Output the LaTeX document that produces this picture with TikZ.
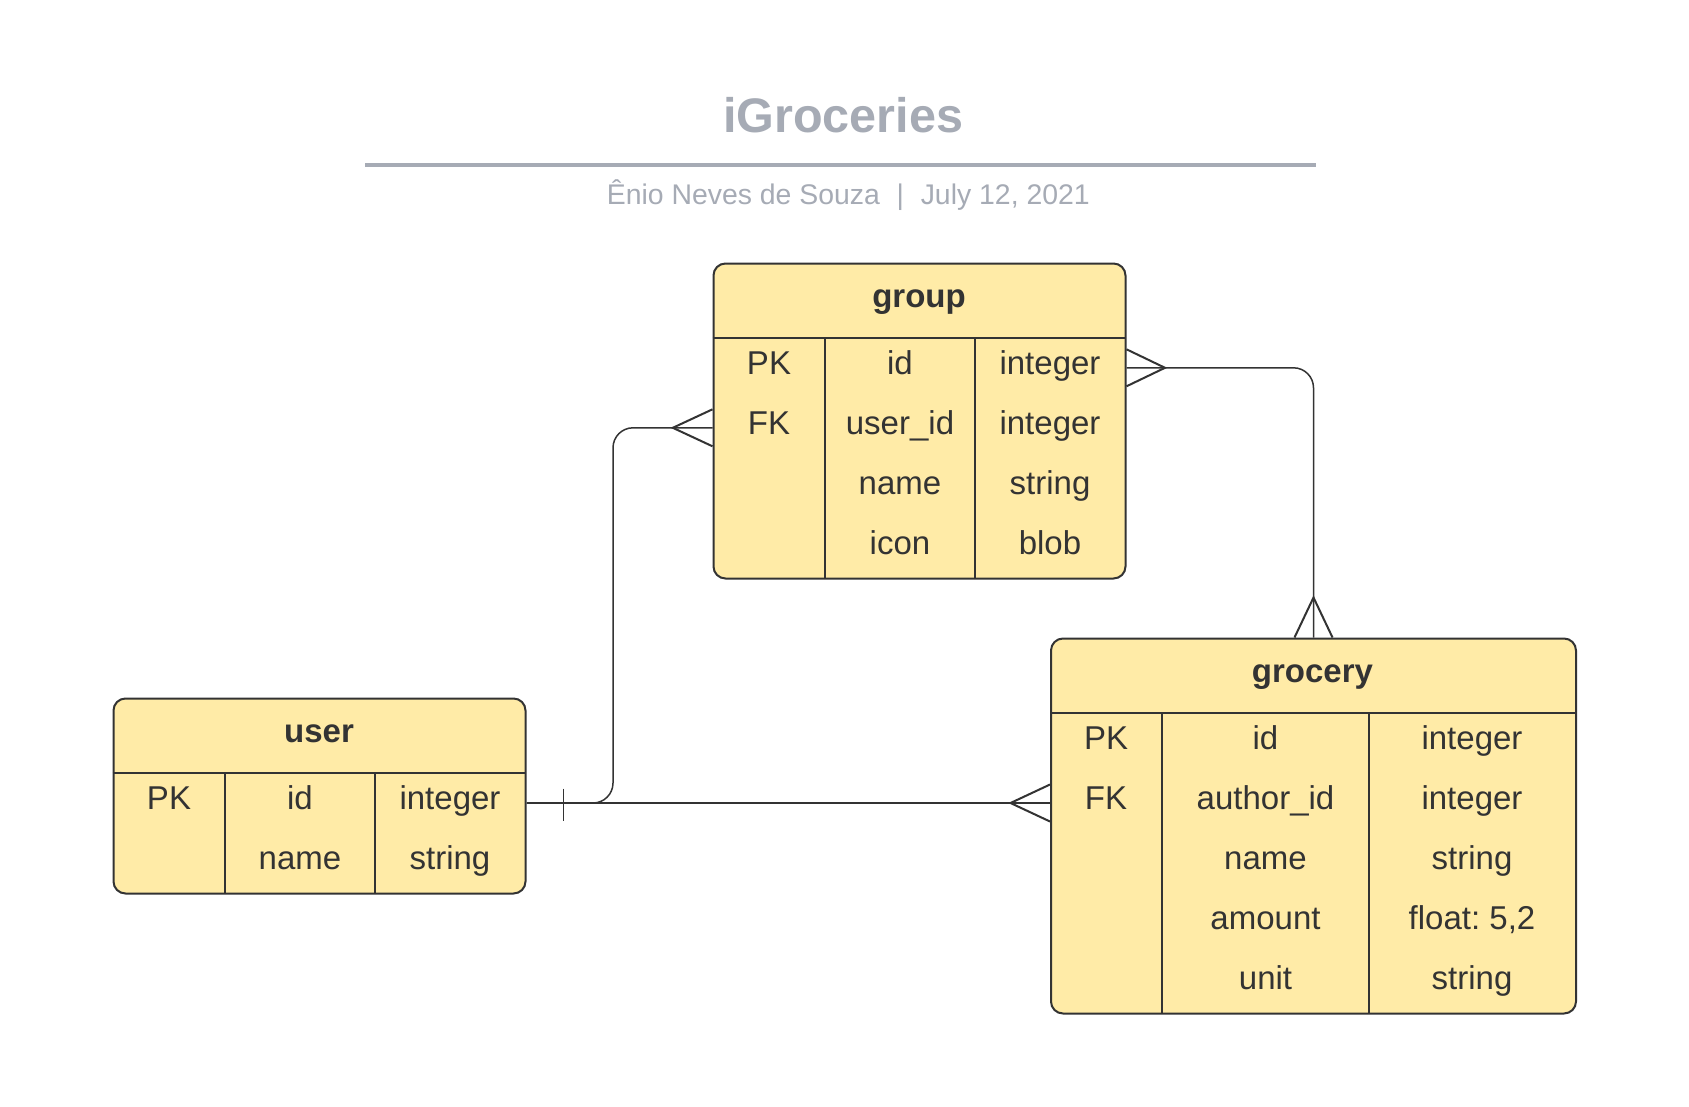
\documentclass[tikz,border=0pt]{standalone}
\usepackage{fontspec}
\setmainfont{Liberation Sans}
\usetikzlibrary{calc}
\definecolor{ink}{HTML}{333333}
\definecolor{fillY}{RGB}{255,235,167}
\definecolor{titlegray}{RGB}{166,171,181}
\tikzset{
  tbl/.style={draw=ink, line width=2pt, fill=fillY, rounded corners=12pt, inner sep=0pt, anchor=north west},
  divider/.style={draw=ink, line width=1.5pt},
  cell/.style={font=\fontsize{33}{40}\selectfont\frenchspacing, text=ink, anchor=base, inner sep=0pt},
  ttl/.style={font=\fontsize{33}{40}\selectfont\bfseries, text=ink, anchor=base, inner sep=0pt},
  conn/.style={draw=ink, line width=1.5pt},
  prong/.style={draw=ink, line width=2pt, line join=miter},
}
\begin{document}
\begin{tikzpicture}[x=1pt, y=-1pt]
\useasboundingbox[fill=white] (0,0) rectangle (1689,1106);

% ---- title block
\node[font=\fontsize{48.5}{58}\selectfont\bfseries, text=titlegray, anchor=base, inner sep=0pt] (title) at (843,132.5) {iGroceries};
\draw[titlegray, line width=4pt] (365,164.8) -- (1316,164.8);
\node[font=\fontsize{28.4}{34}\selectfont, text=titlegray, anchor=base, inner sep=0pt] (subtitle) at (848.3,204) {Ênio Neves de Souza\hspace{0.59em}|\hspace{0.59em}July 12, 2021};

% ---- group table
\node[tbl, minimum width=412pt, minimum height=315pt] (group) at (712.5,262.5) {};
\draw[divider] (712.5,337.8) -- (1124.5,337.8);
\draw[divider] (825,337.8) -- (825,577.5);
\draw[divider] (975,337.8) -- (975,577.5);
\node[ttl] (group-title) at (919,307) {group};
\node[cell] (g-pk) at (769,374.3) {PK};
\node[cell] (g-fk) at (769,434.3) {FK};
\node[cell] (g-c1) at (900,374.3) {id};
\node[cell] (g-c2) at (900,434.3) {user\_id};
\node[cell] (g-c3) at (900,494.3) {name};
\node[cell] (g-c4) at (900,554.3) {icon};
\node[cell] (g-t1) at (1050,374.3) {integer};
\node[cell] (g-t2) at (1050,434.3) {integer};
\node[cell] (g-t3) at (1050,494.3) {string};
\node[cell] (g-t4) at (1050,554.3) {blob};

% ---- user table
\node[tbl, minimum width=412pt, minimum height=195pt] (user) at (112.5,697.5) {};
\draw[divider] (112.5,773) -- (524.5,773);
\draw[divider] (225,773) -- (225,892.5);
\draw[divider] (375,773) -- (375,892.5);
\node[ttl] (user-title) at (319,742) {user};
\node[cell] (u-pk) at (169,809.5) {PK};
\node[cell] (u-c1) at (300,809.5) {id};
\node[cell] (u-c2) at (300,869.5) {name};
\node[cell] (u-t1) at (450,809.5) {integer};
\node[cell] (u-t2) at (450,869.5) {string};

% ---- grocery table
\node[tbl, minimum width=525pt, minimum height=375pt] (grocery) at (1050,637.5) {};
\draw[divider] (1050,713) -- (1575,713);
\draw[divider] (1162,713) -- (1162,1012.5);
\draw[divider] (1369,713) -- (1369,1012.5);
\node[ttl] (grocery-title) at (1312.5,682) {grocery};
\node[cell] (r-pk) at (1106,749.5) {PK};
\node[cell] (r-fk) at (1106,809.5) {FK};
\node[cell] (r-c1) at (1265.5,749.5) {id};
\node[cell] (r-c2) at (1265.5,809.5) {author\_id};
\node[cell] (r-c3) at (1265.5,869.5) {name};
\node[cell] (r-c4) at (1265.5,929.5) {amount};
\node[cell] (r-c5) at (1265.5,989.5) {unit};
\node[cell] (r-t1) at (1472,749.5) {integer};
\node[cell] (r-t2) at (1472,809.5) {integer};
\node[cell] (r-t3) at (1472,869.5) {string};
\node[cell] (r-t4) at (1472,929.5) {{float: 5,2}};
\node[cell] (r-t5) at (1472,989.5) {string};

% ---- connector anchor points
\coordinate (user-id-e) at (user.east |- 0,803);
\coordinate (groc-fk-w) at (grocery.west |- 0,803);
\coordinate (group-fk-w) at (group.west |- 0,427.8);
\coordinate (group-id-e) at (group.east |- 0,367.8);
\coordinate (groc-n) at (grocery.north);
\coordinate (bend) at (613,803);

% user -- grocery
\draw[conn] (user-id-e) -- (groc-fk-w);
\draw[conn] (563.5,788.5) -- (563.5,821);
\draw[prong] ($(groc-fk-w)+(0,-18.5)$) -- ($(groc-fk-w)+(-39.5,0)$) -- ($(groc-fk-w)+(0,18.5)$);

% user -- group
\draw[conn, rounded corners=20pt] (user-id-e) -- (bend) |- (group-fk-w);
\draw[prong] ($(group-fk-w)+(0,-18.5)$) -- ($(group-fk-w)+(-39.7,0)$) -- ($(group-fk-w)+(0,18.5)$);

% group -- grocery
\draw[conn, rounded corners=20pt] (group-id-e) -| (groc-n);
\draw[prong] ($(group-id-e)+(0,-18.5)$) -- ($(group-id-e)+(38.5,0)$) -- ($(group-id-e)+(0,18.5)$);
\draw[prong] ($(groc-n)+(-19,0)$) -- ($(groc-n)+(0,-40)$) -- ($(groc-n)+(19,0)$);
\end{tikzpicture}
\end{document}
